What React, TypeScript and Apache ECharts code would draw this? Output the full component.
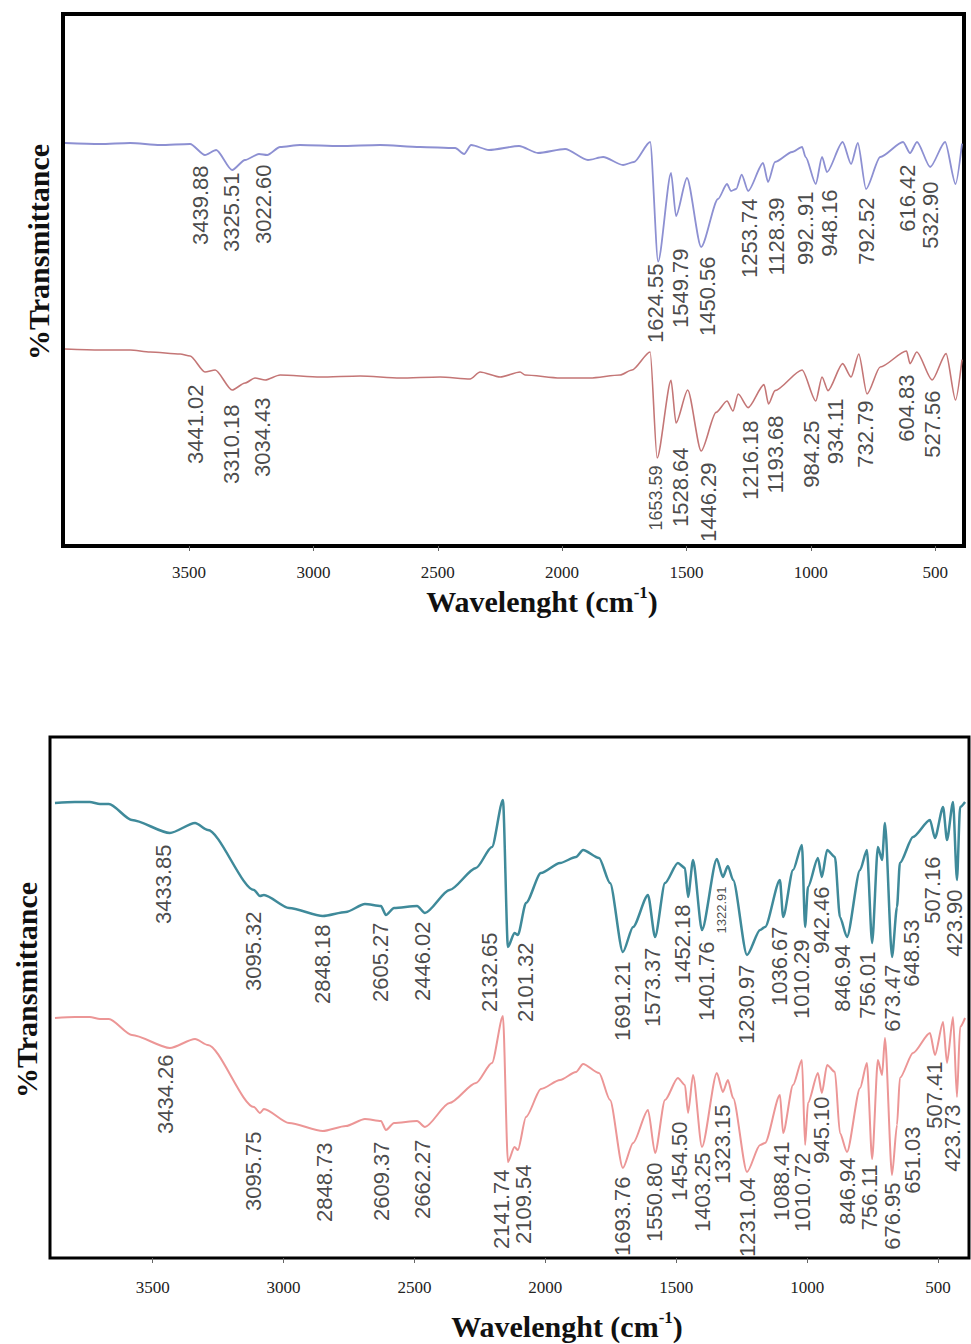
import { useEffect, useRef } from "react";
import * as echarts from "echarts";

// ---------- axis ticks ----------
const X_TICKS = [3500, 3000, 2500, 2000, 1500, 1000, 500];

// ---------- top panel ----------
const TOP_BLUE_WN = [3999, 3858, 3737, 3617, 3496, 3436, 3391, 3327, 3275, 3219, 3186, 3134, 3054, 2893, 2732, 2571, 2430, 2394, 2366, 2294, 2173, 2097, 1988, 1896, 1835, 1755, 1711, 1646, 1614, 1562, 1542, 1498, 1441, 1373, 1337, 1321, 1300, 1278, 1252, 1192, 1172, 1144, 1075, 1035, 1021, 980, 955, 935, 872, 838, 811, 778, 721, 629, 601, 573, 520, 460, 418, 392];
const TOP_BLUE_T = [100.75, 100.5, 100.75, 100.25, 100.5, 97.75, 99, 94, 96.5, 98, 97.75, 99.75, 100.25, 100, 100.25, 99.75, 99.5, 98, 100.25, 99, 100, 98.25, 99.25, 96.5, 97.25, 95.25, 96, 101, 71.1, 93.25, 82.5, 92, 74.75, 86.75, 90.5, 88.75, 89.25, 92.85, 88.75, 95.75, 91, 96, 98.5, 99.75, 97.25, 90.5, 97.25, 93.5, 101, 95.5, 100.75, 89.25, 97.25, 101, 98.25, 101, 94.75, 101, 90.5, 100.6];

const TOP_RED_WN = [3999, 3858, 3737, 3657, 3536, 3496, 3436, 3395, 3327, 3275, 3235, 3194, 3134, 2973, 2812, 2652, 2491, 2370, 2330, 2249, 2169, 2149, 2008, 1888, 1767, 1719, 1646, 1618, 1562, 1542, 1495, 1441, 1381, 1337, 1313, 1292, 1252, 1188, 1170, 1144, 1035, 980, 955, 931, 872, 838, 807, 774, 721, 615, 601, 574, 512, 456, 418, 392];
const TOP_RED_T = [49.25, 49, 49, 48.5, 48, 47.5, 43.5, 44, 39, 40.75, 42, 41.5, 42.75, 42.25, 42.5, 42, 42.25, 41.75, 43.5, 42.25, 43.5, 42.75, 42, 42, 42.75, 44, 48.5, 22, 41.4, 30.75, 39, 23.75, 33.4, 36.25, 33.75, 38, 34.6, 40.35, 35.5, 38.85, 44, 36.25, 42.25, 38.85, 45.6, 42.25, 48, 38, 44.75, 48.75, 45.6, 48.5, 41.5, 48.1, 36.5, 46.6];

// peak annotations: [text, wavenumber, %T at label top]
const TOP_BLUE_LABELS: [string, number, number][] = [
  ["3439.88", 3452, 95], ["3325.51", 3327, 93.25], ["3022.60", 3198, 95.25],
  ["1624.55", 1622, 70.5], ["1549.79", 1522, 74.25], ["1450.56", 1413, 72.25],
  ["1253.74", 1244, 86.75], ["1128.39", 1136, 87], ["992..91", 1019, 88.5],
  ["948.16", 922, 89], ["792.52", 774, 87], ["616.42", 609, 95.25], ["532.90", 516, 91],
];
const TOP_RED_LABELS: [string, number, number][] = [
  ["3441.02", 3472, 40.25], ["3310.18", 3327, 35.25], ["3034.43", 3202, 37],
  ["1653.59", 1622, 20], ["1528.64", 1522, 24.5], ["1446.29", 1409, 20.75],
  ["1216.18", 1240, 31.25], ["1193.68", 1140, 32.5], ["984.25", 995, 31.25],
  ["934.11", 898, 36.75], ["732.79", 778, 36.25], ["604.83", 613, 42.75], ["527.56", 508, 38.75],
];

// ---------- bottom panel ----------
const BOTTOM_WN = [3873, 3797, 3740, 3701, 3667, 3579, 3434, 3338, 3289, 3113, 3090, 3075, 2979, 2850, 2762, 2689, 2628, 2609, 2578, 2490, 2460, 2366, 2265, 2204, 2162, 2143, 2118, 2105, 2074, 2017, 1944, 1883, 1856, 1795, 1753, 1704, 1665, 1608, 1581, 1543, 1494, 1467, 1455, 1436, 1402, 1345, 1322, 1303, 1283, 1230, 1180, 1161, 1104, 1092, 1054, 1020, 1008, 997, 959, 944, 924, 894, 875, 848, 798, 772, 752, 730, 714, 703, 676, 657, 646, 596, 531, 512, 481, 466, 443, 428, 416, 397];
const BOTTOM_TEAL_T = [113.75, 114, 114, 113.5, 113.5, 109.5, 106.25, 108.75, 107, 92, 90.5, 90.75, 87.5, 85.5, 86.5, 88.5, 88, 85.75, 87.5, 88, 86.25, 92, 97.5, 102.75, 114.5, 77.75, 81.25, 80.75, 88.75, 96.25, 98.75, 100.25, 102, 100, 93.75, 76.5, 82.75, 90.75, 80.25, 93.75, 98.75, 97.5, 90.25, 99.5, 82, 99.75, 95.25, 98, 94.5, 75.75, 82, 82.75, 94.5, 85.25, 97, 103.25, 82.75, 92.75, 100, 95.25, 102, 100.25, 85.25, 80.25, 97, 102, 78.75, 102.75, 99.5, 108.75, 75.25, 87.75, 98.75, 105.25, 109.5, 105, 112.75, 104.5, 114, 94.5, 112.75, 114];
const BOTTOM_PINK_T = [60, 60.25, 60.25, 59.75, 59.75, 55.75, 52.5, 54.75, 53.25, 37.75, 36.25, 37.25, 33.75, 31.75, 33, 34.75, 34.25, 32, 33.75, 34.25, 32.75, 38.75, 43.75, 48.75, 60.5, 24, 27.75, 27, 35.25, 42.25, 44.5, 46.5, 48.5, 46.25, 39.5, 22.5, 28.75, 37, 26.25, 39.5, 45, 43.25, 36.25, 45.75, 27.75, 46.25, 41.5, 44.5, 40, 21.5, 28.25, 28.75, 40.75, 31.25, 43.25, 49.5, 28.25, 38.75, 46.25, 41.25, 48.25, 46.5, 31.25, 26.5, 42.5, 48.75, 24.75, 49.5, 45.75, 55, 20.75, 33.25, 45, 51.25, 56.25, 50.75, 59, 48.75, 60.25, 40.25, 57.75, 60];

const BOTTOM_TEAL_LABELS: [string, number, number][] = [
  ["3433.85", 3457, 103.25], ["3095.32", 3113, 86.5], ["2848.18", 2850, 83.25],
  ["2605.27", 2628, 83.75], ["2446.02", 2468, 84], ["2132.65", 2212, 81.25],
  ["2101.32", 2074, 78.75], ["1691.21", 1704, 74], ["1573.37", 1589, 77.5],
  ["1452.18", 1474, 88.25], ["1401.76", 1383, 79], ["1322.91", 1325, 92.75],
  ["1230.97", 1230, 73.25], ["1036.67", 1104, 82.75], ["1010.29", 1020, 79.5],
  ["942.46", 944, 92.75], ["846.94", 863, 78.25], ["756.01", 768, 76.5],
  ["673.47", 672, 73.25], ["648.53", 600, 84.5], ["507.16", 520, 100.25], ["423.90", 436, 92],
];
const BOTTOM_PINK_LABELS: [string, number, number][] = [
  ["3434.26", 3449, 50.75], ["3095.75", 3113, 31.5], ["2848.73", 2842, 28.75],
  ["2609.37", 2624, 29], ["2662.27", 2468, 29.5], ["2141.74", 2166, 22],
  ["2109.54", 2082, 23.25], ["1693.76", 1704, 20.25], ["1550.80", 1581, 23.75],
  ["1454.50", 1486, 34], ["1403.25", 1398, 26.25], ["1323.15", 1322, 38.25],
  ["1231.04", 1226, 20], ["1088.41", 1096, 29], ["1010.72", 1016, 26.25],
  ["945.10", 944, 40.25], ["846.94", 844, 25], ["756.11", 760, 23.25],
  ["676.95", 672, 18.75], ["651.03", 596, 32.75], ["507.41", 512, 49], ["423.73", 443, 38.25],
];

// ---------- styles ----------
const SERIF = '"Liberation Serif", "Times New Roman", serif';
const SANS = '"Liberation Sans", Arial, sans-serif';
const LABEL_SIZE_OVERRIDE: Record<string, number> = { "1653.59": 18, "1322.91": 13 };

const zip = (xs: number[], ys: number[]) => xs.map((x, i) => [x, ys[i]]);

const lineSeries = (idx: number, xs: number[], ys: number[], color: string, width: number) => ({
  type: "line",
  xAxisIndex: idx,
  yAxisIndex: idx,
  data: zip(xs, ys),
  showSymbol: false,
  smooth: 0.25,
  smoothMonotone: "x",
  lineStyle: { color, width },
  itemStyle: { color },
  silent: true,
  z: 3,
});

const labelSeries = (idx: number, items: [string, number, number][]) => ({
  type: "scatter",
  xAxisIndex: idx,
  yAxisIndex: idx,
  silent: true,
  symbolSize: 1,
  itemStyle: { color: "transparent" },
  data: items.map(([t, w, v]) => ({
    name: t,
    value: [w, v],
    label: LABEL_SIZE_OVERRIDE[t] ? { fontSize: LABEL_SIZE_OVERRIDE[t] } : undefined,
  })),
  label: {
    show: true,
    formatter: "{b}",
    position: [0, 0],
    rotate: 90,
    align: "right",
    verticalAlign: "middle",
    fontFamily: SANS,
    fontSize: 22,
    color: "#1a1a1a",
  },
  z: 5,
});

const xAxisCfg = (idx: number, min: number, max: number, margin: number) => ({
  gridIndex: idx,
  type: "value",
  inverse: true,
  min,
  max,
  axisLine: { show: false },
  splitLine: { show: false },
  axisTick: { show: true, customValues: X_TICKS, length: 5, lineStyle: { color: "#666", width: 1 } },
  axisLabel: {
    customValues: X_TICKS,
    margin,
    fontFamily: SERIF,
    fontSize: 17,
    color: "#222",
    formatter: (v: number) => String(v),
  },
});

const titleText = (x: number, y: number) => ({
  type: "text",
  x,
  y,
  silent: true,
  style: {
    text: "{a|Wavelenght (cm}{s|-1}{a|)}",
    align: "center",
    verticalAlign: "middle",
    rich: {
      a: { fontSize: 30, fontWeight: "bold", fontFamily: SERIF, fill: "#111", lineHeight: 34 },
      s: { fontSize: 17, fontWeight: "bold", fontFamily: SERIF, fill: "#111", lineHeight: 17, verticalAlign: "top" },
    },
  },
});

const yTitle = (x: number, y: number) => ({
  type: "text",
  x,
  y,
  rotation: Math.PI / 2,
  silent: true,
  style: {
    text: "%Transmittance",
    fontSize: 30,
    fontWeight: "bold",
    fontFamily: SERIF,
    fill: "#111",
    align: "center",
    verticalAlign: "middle",
  },
});

const option = {
  animation: false,
  backgroundColor: "#fff",
  grid: [
    { left: 63, top: 14, width: 901, height: 532, show: true, borderColor: "#000", borderWidth: 4, backgroundColor: "transparent" },
    { left: 50, top: 737, width: 919, height: 521, show: true, borderColor: "#000", borderWidth: 3, backgroundColor: "transparent" },
  ],
  xAxis: [xAxisCfg(0, 384, 4007, 18), xAxisCfg(1, 382, 3892, 21)],
  yAxis: [
    { gridIndex: 0, type: "value", min: 0, max: 133, show: false, splitLine: { show: false } },
    { gridIndex: 1, type: "value", min: 0, max: 130.25, show: false, splitLine: { show: false } },
  ],
  series: [
    lineSeries(0, TOP_BLUE_WN, TOP_BLUE_T, "#8d90d2", 1.8),
    lineSeries(0, TOP_RED_WN, TOP_RED_T, "#c47676", 1.6),
    lineSeries(1, BOTTOM_WN, BOTTOM_TEAL_T, "#3f8a9a", 2.5),
    lineSeries(1, BOTTOM_WN, BOTTOM_PINK_T, "#ec9696", 2),
    labelSeries(0, TOP_BLUE_LABELS),
    labelSeries(0, TOP_RED_LABELS),
    labelSeries(1, BOTTOM_TEAL_LABELS),
    labelSeries(1, BOTTOM_PINK_LABELS),
  ],
  graphic: [titleText(542, 601), titleText(567, 1326), yTitle(38, 252), yTitle(26, 990)],
};

export default function App() {
  const ref = useRef<HTMLDivElement>(null);
  useEffect(() => {
    const chart = echarts.init(ref.current!, null, { renderer: "svg" });
    chart.setOption(option as any);
    return () => chart.dispose();
  }, []);
  return (
    <div
      ref={ref}
      style={{ position: "absolute", left: 0, top: 0, width: 971, height: 1344, background: "#fff" }}
    />
  );
}
